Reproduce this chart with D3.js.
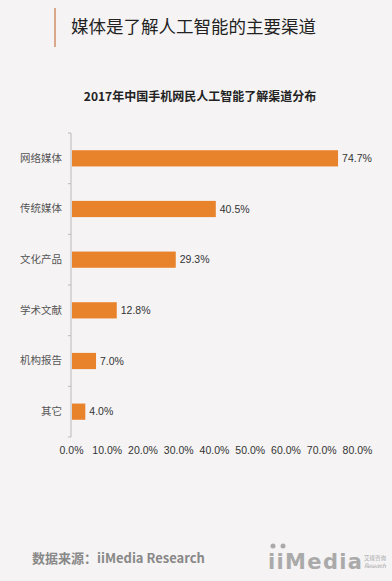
<!DOCTYPE html>
<html>
<head>
<meta charset="utf-8">
<script src="https://cdn.jsdelivr.net/npm/d3@7"></script>
<style>
  body { margin: 0; background: #f5f3f4; }
  svg { display: block; font-family: "Noto Sans CJK SC", "Noto Sans", sans-serif; }
</style>
</head>
<body>
<svg width="392" height="581"></svg>
<script>
// chart data
const categories = ["网络媒体", "传统媒体", "文化产品", "学术文献", "机构报告", "其它"];
const values = [74.7, 40.5, 29.3, 12.8, 7.0, 4.0];
const xTicks = [0, 10, 20, 30, 40, 50, 60, 70, 80];

const svg = d3.select("svg");

// background
svg.append("rect")
    .attr("width", 392)
    .attr("height", 581)
    .attr("fill", "#f5f3f4");

// header with side line
svg.append("line")
    .attr("x1", 55).attr("x2", 55)
    .attr("y1", 8).attr("y2", 47)
    .attr("stroke", "#d9a88a")
    .attr("stroke-width", 2);

svg.append("text")
    .attr("x", 71)
    .attr("y", 33)
    .attr("font-size", 17.5)
    .attr("fill", "#222")
    .text("媒体是了解人工智能的主要渠道");

// chart title
svg.append("text")
    .attr("x", 200)
    .attr("y", 101)
    .attr("text-anchor", "middle")
    .attr("font-size", 12)
    .attr("font-weight", "bold")
    .attr("fill", "#222")
    .text("2017年中国手机网民人工智能了解渠道分布");

// scales
const xScale = d3.scaleLinear()
    .domain([0, 80])
    .range([71, 357]);

const yScale = d3.scaleBand()
    .domain(categories)
    .range([133, 437])
    .paddingInner(0.68)
    .paddingOuter(0.34);

// y axis labels
const yAxis = d3.axisLeft(yScale).tickSize(0).tickPadding(9);
const gy = svg.append("g")
    .attr("transform", "translate(71,0)")
    .call(yAxis);
gy.select(".domain").remove();
gy.selectAll("text")
    .attr("font-family", "\"Noto Sans CJK SC\", sans-serif")
    .attr("font-size", 10.5)
    .attr("fill", "#555");

// y axis line and boundary ticks
svg.append("line")
    .attr("x1", 71).attr("x2", 71)
    .attr("y1", 133).attr("y2", 437)
    .attr("stroke", "#bbb");

const half = yScale.step() * yScale.paddingInner() / 2;
const bounds = categories.map(c => yScale(c) - half).concat([437]);
svg.selectAll(".btick")
    .data(bounds)
    .enter()
    .append("line")
    .attr("x1", 68).attr("x2", 71)
    .attr("y1", d => d).attr("y2", d => d)
    .attr("stroke", "#bbb");

// x axis labels
const xAxis = d3.axisBottom(xScale)
    .tickValues(xTicks)
    .tickSize(0)
    .tickFormat(d => d.toFixed(1) + "%");
const gx = svg.append("g")
    .attr("transform", "translate(0,444)")
    .call(xAxis);
gx.select(".domain").remove();
gx.selectAll("text")
    .attr("font-family", "\"Liberation Sans\", Arial, sans-serif")
    .attr("font-size", 10.5)
    .attr("fill", "#333");

// bars
svg.selectAll(".bar")
    .data(values)
    .enter()
    .append("rect")
    .attr("x", xScale(0) + 1)
    .attr("y", (d, i) => yScale(categories[i]))
    .attr("width", d => xScale(d) - xScale(0) - 1)
    .attr("height", yScale.bandwidth())
    .attr("fill", "#e9832b");

// value labels
svg.selectAll(".val")
    .data(values)
    .enter()
    .append("text")
    .attr("x", d => xScale(d) + 4)
    .attr("y", (d, i) => yScale(categories[i]) + yScale.bandwidth() / 2)
    .attr("dy", "0.35em")
    .attr("font-family", "\"Liberation Sans\", Arial, sans-serif")
    .attr("font-size", 10.5)
    .attr("fill", "#333")
    .text(d => d.toFixed(1) + "%");

// source
svg.append("text")
    .attr("x", 32)
    .attr("y", 563)
    .attr("font-size", 13)
    .attr("font-weight", "bold")
    .attr("fill", "#888")
    .text("数据来源：iiMedia Research");

// logo
const logo = svg.append("g").attr("fill", "#aaa");
logo.append("circle").attr("cx", 273).attr("cy", 546).attr("r", 2.5);
logo.append("circle").attr("cx", 283).attr("cy", 546).attr("r", 2.5);
logo.append("text")
    .attr("x", 268)
    .attr("y", 569)
    .attr("font-family", "\"DejaVu Sans\", sans-serif")
    .attr("font-size", 21)
    .attr("font-weight", "bold")
    .attr("textLength", 94)
    .text("iiMedia");
logo.append("text")
    .attr("x", 364)
    .attr("y", 560)
    .attr("font-size", 5.5)
    .attr("textLength", 22)
    .text("艾媒咨询");
logo.append("text")
    .attr("x", 364)
    .attr("y", 568)
    .attr("font-size", 6)
    .attr("font-style", "italic")
    .attr("textLength", 22)
    .text("Research");
</script>
</body>
</html>
